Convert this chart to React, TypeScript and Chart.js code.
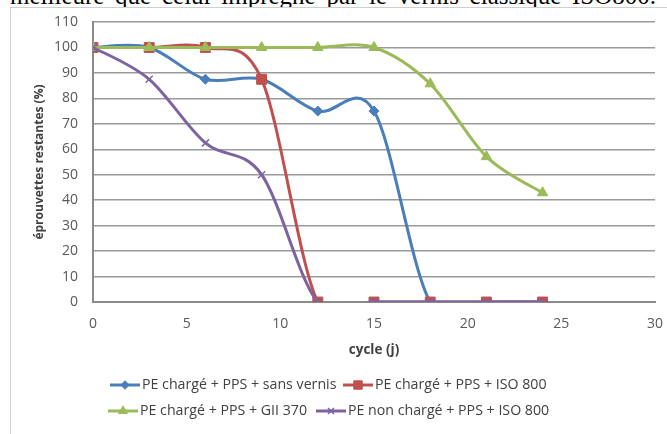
import React, { useEffect, useRef } from "react";
import { Chart, registerables } from "chart.js";
import { drawPoint } from "chart.js/helpers";

Chart.register(...registerables);

// ---- data ----
const CYCLES = [0, 3, 6, 9, 12, 15, 18, 21, 24];
const SERIES_NAMES = [
  "PE chargé + PPS + sans vernis",
  "PE chargé + PPS + ISO 800",
  "PE chargé + PPS + GII 370",
  "PE non chargé + PPS + ISO 800",
];
const SANS_VERNIS = [100, 100, 87.5, 87.5, 75, 75, 0, 0, 0];
const ISO_800 = [100, 100, 100, 87.5, 0, 0, 0, 0, 0];
const GII_370 = [100, 100, 100, 100, 100, 100, 85.7, 57.1, 42.9];
const NON_CHARGE_ISO_800 = [100, 87.5, 62.5, 50, 0, 0, 0, 0, 0];

const X_MIN = 0;
const X_MAX = 30;
const X_STEP = 5;
const Y_MIN = 0;
const Y_MAX = 110;
const Y_STEP = 10;

const X_TITLE = "cycle (j)";
const Y_TITLE = "éprouvettes restantes (%)";
const CAPTION = "meilleure que celui imprégné par le vernis classique ISO800.";

// ---- styles ----
const COLORS = ["#4a7ebb", "#c0504d", "#9bbb59", "#7d63a0"];
const POINT_STYLES = ["rectRot", "rect", "triangle", "crossRot"];
const POINT_RADII = [5, 7, 6, 5];
const DRAW_ORDER = [4, 3, 2, 1];
const FONT = '"Open Sans", "Noto Sans", sans-serif';

// legend layout (canvas px): [x of line start, y centre]
const LEGEND_POS: [number, number][] = [
  [99, 377],
  [332, 377],
  [97, 403],
  [305, 403],
];

// Excel-like smoothing: control points = P ± (next - prev) / 6
function applyExcelSmoothing(chart: any) {
  chart.data.datasets.forEach((_ds: any, i: number) => {
    const meta = chart.getDatasetMeta(i);
    const pts = meta.data;
    const n = pts.length;
    for (let k = 0; k < n; k++) {
      const p = pts[k];
      const prev = pts[Math.max(k - 1, 0)];
      const next = pts[Math.min(k + 1, n - 1)];
      const tx = (next.x - prev.x) / 6;
      const ty = (next.y - prev.y) / 6;
      p.cp1x = p.x - tx;
      p.cp1y = p.y - ty;
      p.cp2x = p.x + tx;
      p.cp2y = p.y + ty;
    }
    if (meta.dataset) {
      meta.dataset._pointsUpdated = true;
      meta.dataset._path = undefined;
    }
  });
}

const excelSmoothPlugin = {
  id: "excelSmooth",
  afterDatasetsUpdate(chart: any) {
    applyExcelSmoothing(chart);
  },
  beforeDatasetsDraw(chart: any) {
    applyExcelSmoothing(chart);
  },
};

const legendPlugin = {
  id: "excelLegend",
  afterDraw(chart: any) {
    const ctx: CanvasRenderingContext2D = chart.ctx;
    ctx.save();
    chart.data.datasets.forEach((ds: any, i: number) => {
      const [x, y] = LEGEND_POS[i];
      const len = 30;
      ctx.strokeStyle = ds.borderColor;
      ctx.lineWidth = 3;
      ctx.beginPath();
      ctx.moveTo(x, y);
      ctx.lineTo(x + len, y);
      ctx.stroke();
      ctx.fillStyle = ds.pointBackgroundColor;
      ctx.strokeStyle = ds.pointBorderColor;
      ctx.lineWidth = ds.pointBorderWidth;
      drawPoint(
        ctx,
        {
          pointStyle: ds.pointStyle,
          radius: ds.pointRadius * 0.85,
          rotation: 0,
          borderWidth: ds.pointBorderWidth,
        } as any,
        x + len / 2,
        y
      );
      ctx.fillStyle = "#404040";
      ctx.font = `14.2px ${FONT}`;
      ctx.textAlign = "left";
      ctx.textBaseline = "middle";
      ctx.fillText(ds.label, x + len + 2, y);
    });
    ctx.restore();
  },
};

function toPoints(values: number[]) {
  return CYCLES.map((c, i) => ({ x: c, y: values[i] }));
}

export default function App() {
  const canvasRef = useRef<HTMLCanvasElement | null>(null);

  useEffect(() => {
    const canvas = canvasRef.current;
    if (!canvas) return;
    const allValues = [SANS_VERNIS, ISO_800, GII_370, NON_CHARGE_ISO_800];
    const chart = new Chart(canvas, {
      type: "line",
      data: {
        datasets: allValues.map((vals, i) => ({
          label: SERIES_NAMES[i],
          data: toPoints(vals),
          borderColor: COLORS[i],
          backgroundColor: COLORS[i],
          pointBackgroundColor: COLORS[i],
          pointBorderColor: COLORS[i],
          pointBorderWidth: i === 3 ? 1.5 : 1,
          pointStyle: POINT_STYLES[i],
          pointRadius: POINT_RADII[i],
          borderWidth: 3,
          tension: 0.4,
          capBezierPoints: false,
          fill: false,
          order: DRAW_ORDER[i],
        })),
      },
      options: {
        animation: false,
        responsive: false,
        devicePixelRatio: 1,
        layout: { padding: { top: 14, right: 12, bottom: 72, left: 0 } },
        plugins: {
          legend: { display: false },
          tooltip: { enabled: false },
        },
        scales: {
          x: {
            type: "linear",
            min: X_MIN,
            max: X_MAX,
            afterFit: (s: any) => {
              s.height = 60;
            },
            ticks: {
              stepSize: X_STEP,
              padding: 0,
              color: "#595959",
              font: { family: FONT, size: 14 },
            },
            grid: {
              display: true,
              drawOnChartArea: false,
              drawTicks: true,
              tickLength: 14,
              tickColor: "rgba(0,0,0,0)",
            },
            border: { display: true, color: "#8a8a8a", width: 2 },
            title: {
              display: true,
              text: X_TITLE,
              color: "#404040",
              font: { family: FONT, size: 13.5, weight: "bold" },
              padding: { top: 0, bottom: 4 },
            },
          },
          y: {
            min: Y_MIN,
            max: Y_MAX,
            afterFit: (s: any) => {
              s.width = 82;
            },
            ticks: {
              stepSize: Y_STEP,
              padding: 0,
              color: "#595959",
              font: { family: FONT, size: 14 },
            },
            grid: {
              color: "#9a9a9a",
              lineWidth: 1.5,
              drawTicks: true,
              tickLength: 15,
              tickColor: "rgba(0,0,0,0)",
            },
            border: { display: true, color: "#8a8a8a", width: 2 },
            title: {
              display: true,
              text: Y_TITLE,
              color: "#404040",
              font: { family: FONT, size: 12, weight: "bold" },
              padding: { top: 21, bottom: 0 },
            },
          },
        },
      },
      plugins: [excelSmoothPlugin, legendPlugin],
    });
    return () => chart.destroy();
  }, []);

  return (
    <div style={{ position: "absolute", left: 0, top: 0, width: 667, height: 434, overflow: "hidden", background: "#fff" }}>
      <div
        style={{
          position: "absolute",
          left: 10,
          top: -17,
          width: 646,
          fontFamily: '"Liberation Serif", "DejaVu Serif", serif',
          fontSize: 25,
          lineHeight: "25px",
          whiteSpace: "nowrap",
          textAlign: "justify",
          textAlignLast: "justify" as any,
          color: "#000",
        }}
      >
        {CAPTION}
      </div>
      <div
        style={{
          position: "absolute",
          left: 10,
          top: 7,
          width: 680,
          height: 440,
          borderLeft: "1px solid #cfcfcf",
          borderTop: "1px solid #cfcfcf",
          background: "#fff",
        }}
      >
        <canvas ref={canvasRef} width={656} height={426} style={{ display: "block", width: 656, height: 426 }} />
      </div>
    </div>
  );
}
